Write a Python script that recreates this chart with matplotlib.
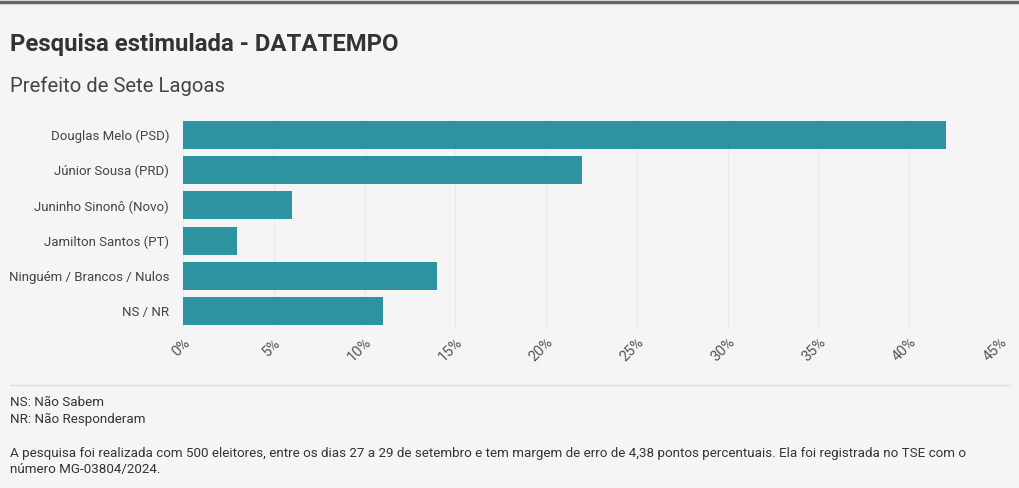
import matplotlib.pyplot as plt
from matplotlib.ticker import FuncFormatter

plt.rcParams['font.family'] = ['Roboto', 'DejaVu Sans']

candidatos = ['Douglas Melo (PSD)', 'Júnior Sousa (PRD)', 'Juninho Sinonô (Novo)',
              'Jamilton Santos (PT)', 'Ninguém / Brancos / Nulos', 'NS / NR']
percentuais = [42, 22, 6, 3, 14, 11]
ticks = [0, 5, 10, 15, 20, 25, 30, 35, 40, 45]

bg = '#f5f5f5'
fig = plt.figure(figsize=(10.2, 4.88), dpi=100, facecolor=bg)
ax = fig.add_axes([183 / 1020, 159.5 / 488, 817 / 1020, 211 / 488], facecolor=bg)

ax.barh(range(len(candidatos)), percentuais, height=0.8, color='#2d93a0', zorder=2)
ax.set_ylim(len(candidatos) - 0.5, -0.5)
ax.set_xlim(0, 45)
ax.set_yticks(range(len(candidatos)))
ax.set_yticklabels(candidatos, fontsize=9.5, color='#444444')
ax.set_xticks(ticks)
ax.xaxis.set_major_formatter(FuncFormatter(lambda v, p: f'{v:.0f}%'))
for lbl in ax.get_xticklabels():
    lbl.set_rotation(45)
    lbl.set_ha('right')
    lbl.set_rotation_mode('anchor')
    lbl.set_fontsize(10.5)
    lbl.set_color('#555555')
ax.tick_params(axis='both', length=0)
ax.tick_params(axis='y', pad=10)
ax.tick_params(axis='x', pad=5)
ax.grid(axis='x', color='#eaeaea', linewidth=0.8, zorder=0)
for s in ax.spines.values():
    s.set_visible(False)

# barra superior
fig.add_artist(plt.Line2D([0, 1], [1 - 1.5 / 488, 1 - 1.5 / 488], color='#666666', linewidth=2.5))

fig.text(10 / 1020, 1 - 45 / 488, 'Pesquisa estimulada - DATATEMPO', fontsize=17.2,
         fontweight='bold', color='#333333', va='center')
fig.text(10 / 1020, 1 - 86 / 488, 'Prefeito de Sete Lagoas', fontsize=14.6,
         color='#444444', va='center')

fig.add_artist(plt.Line2D([10 / 1020, 1010 / 1020], [1 - 385 / 488, 1 - 385 / 488],
                          color='#dddddd', linewidth=1))

notas = ['NS: Não Sabem', 'NR: Não Responderam']
fig.text(10 / 1020, 1 - 402 / 488, notas[0], fontsize=9.6, color='#333333', va='center')
fig.text(10 / 1020, 1 - 419 / 488, notas[1], fontsize=9.6, color='#333333', va='center')
fig.text(10 / 1020, 1 - 454 / 488,
         'A pesquisa foi realizada com 500 eleitores, entre os dias 27 a 29 de setembro e tem margem de erro de 4,38 pontos percentuais. Ela foi registrada no TSE com o',
         fontsize=9.6, color='#333333', va='center')
fig.text(10 / 1020, 1 - 470 / 488, 'número MG-03804/2024.', fontsize=9.6, color='#333333', va='center')

fig.savefig('out.png', dpi=100, facecolor=bg)
